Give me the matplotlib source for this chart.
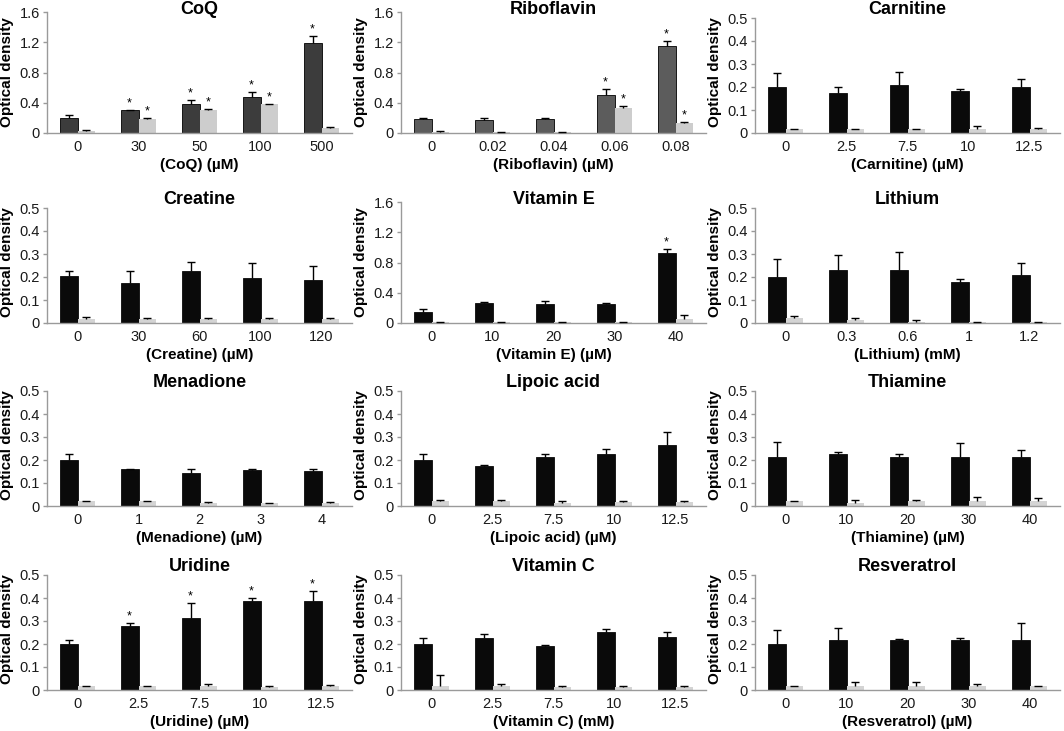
import numpy as np
import matplotlib
matplotlib.use("Agg")
import matplotlib.pyplot as plt

plt.rcParams['font.family'] = ['Liberation Sans', 'DejaVu Sans']

# ---- data ----
titles = ["CoQ", "Riboflavin", "Carnitine",
          "Creatine", "Vitamin E", "Lithium",
          "Menadione", "Lipoic acid", "Thiamine",
          "Uridine", "Vitamin C", "Resveratrol"]

xlabels = ["(CoQ) (µM)", "(Riboflavin) (µM)", "(Carnitine) (µM)",
           "(Creatine) (µM)", "(Vitamin E) (µM)", "(Lithium) (mM)",
           "(Menadione) (µM)", "(Lipoic acid) (µM)", "(Thiamine) (µM)",
           "(Uridine) (µM)", "(Vitamin C) (mM)", "(Resveratrol) (µM)"]

doses = [["0", "30", "50", "100", "500"],
         ["0", "0.02", "0.04", "0.06", "0.08"],
         ["0", "2.5", "7.5", "10", "12.5"],
         ["0", "30", "60", "100", "120"],
         ["0", "10", "20", "30", "40"],
         ["0", "0.3", "0.6", "1", "1.2"],
         ["0", "1", "2", "3", "4"],
         ["0", "2.5", "7.5", "10", "12.5"],
         ["0", "10", "20", "30", "40"],
         ["0", "2.5", "7.5", "10", "12.5"],
         ["0", "2.5", "7.5", "10", "12.5"],
         ["0", "10", "20", "30", "40"]]

ymax = [1.6, 1.6, 0.5, 0.5, 1.6, 0.5, 0.5, 0.5, 0.5, 0.5, 0.5, 0.5]

dark = [[0.20, 0.30, 0.39, 0.48, 1.19],
        [0.18, 0.167, 0.18, 0.50, 1.15],
        [0.20, 0.173, 0.207, 0.183, 0.20],
        [0.203, 0.175, 0.225, 0.195, 0.185],
        [0.145, 0.265, 0.25, 0.25, 0.92],
        [0.20, 0.23, 0.23, 0.177, 0.207],
        [0.20, 0.16, 0.145, 0.158, 0.152],
        [0.20, 0.175, 0.215, 0.225, 0.265],
        [0.215, 0.225, 0.215, 0.215, 0.215],
        [0.20, 0.28, 0.315, 0.385, 0.385],
        [0.20, 0.228, 0.19, 0.252, 0.232],
        [0.20, 0.218, 0.218, 0.218, 0.218]]

dark_err = [[0.04, 0.01, 0.05, 0.06, 0.09],
            [0.015, 0.03, 0.015, 0.08, 0.07],
            [0.062, 0.027, 0.06, 0.008, 0.033],
            [0.022, 0.05, 0.042, 0.065, 0.065],
            [0.035, 0.015, 0.035, 0.012, 0.06],
            [0.077, 0.067, 0.077, 0.015, 0.052],
            [0.025, 0.002, 0.018, 0.003, 0.01],
            [0.025, 0.005, 0.01, 0.025, 0.055],
            [0.065, 0.008, 0.013, 0.06, 0.03],
            [0.018, 0.01, 0.065, 0.015, 0.045],
            [0.028, 0.014, 0.005, 0.015, 0.021],
            [0.062, 0.052, 0.004, 0.01, 0.072]]

light = [[0.02, 0.19, 0.31, 0.38, 0.07],
         [0.013, 0.01, 0.01, 0.33, 0.13],
         [0.017, 0.017, 0.017, 0.017, 0.017],
         [0.019, 0.016, 0.016, 0.016, 0.018],
         [0.01, 0.01, 0.01, 0.01, 0.057],
         [0.02, 0.011, 0.006, 0.003, 0.003],
         [0.02, 0.02, 0.015, 0.012, 0.015],
         [0.02, 0.02, 0.015, 0.018, 0.018],
         [0.02, 0.015, 0.02, 0.02, 0.02],
         [0.018, 0.018, 0.018, 0.015, 0.018],
         [0.018, 0.018, 0.015, 0.015, 0.015],
         [0.018, 0.018, 0.018, 0.018, 0.018]]

light_err = [[0.015, 0.005, 0.005, 0.005, 0.01],
             [0.02, 0.005, 0.005, 0.03, 0.02],
             [0.002, 0.002, 0.002, 0.012, 0.006],
             [0.006, 0.004, 0.004, 0.004, 0.002],
             [0.003, 0.003, 0.003, 0.003, 0.045],
             [0.009, 0.01, 0.005, 0.002, 0.002],
             [0.003, 0.003, 0.003, 0.002, 0.003],
             [0.005, 0.005, 0.005, 0.002, 0.002],
             [0.002, 0.012, 0.005, 0.017, 0.013],
             [0.001, 0.001, 0.01, 0.003, 0.004],
             [0.049, 0.01, 0.003, 0.003, 0.003],
             [0.001, 0.015, 0.015, 0.01, 0.001]]

# significance marks (1 = asterisk)
dark_star = [[0, 1, 1, 1, 1], [0, 0, 0, 1, 1], [0] * 5,
             [0] * 5, [0, 0, 0, 0, 1], [0] * 5,
             [0] * 5, [0] * 5, [0] * 5,
             [0, 1, 1, 1, 1], [0] * 5, [0] * 5]
light_star = [[0, 1, 1, 1, 0], [0, 0, 0, 1, 1]] + [[0] * 5] * 10

dark_colors = ["#3c3c3c", "#5c5c5c"] + ["#0a0a0a"] * 10
light_colors = ["#cdcdcd", "#cdcdcd"] + ["#d4d4d4"] * 10

# ---- layout in pixels ----
W, H = 1064, 731
lefts = [47, 401, 755]
bottoms = [133, 323, 506, 690]
aw, ah = 305, 122

fig = plt.figure(figsize=(W / 100, H / 100), dpi=100)
spine_col = "#9a9a9a"
bw = 0.29

for k in range(12):
    r, c = divmod(k, 3)
    ax = fig.add_axes([lefts[c] / W, 1 - bottoms[r] / H, aw / W, ah / H])
    x = np.arange(5)
    top = ymax[k]
    # 0.5-scaled panels have a slightly shorter axis in the original
    ylim_top = top * 122 / 121 if top > 1 else top * 122 / 115

    ax.bar(x - bw / 2, dark[k], bw, color=dark_colors[k],
           edgecolor="black" if k < 2 else dark_colors[k], linewidth=0.6, zorder=2)
    ax.bar(x + bw / 2, light[k], bw, color=light_colors[k], linewidth=0, zorder=2)

    for xs, ys, es in [(x - bw / 2, dark[k], dark_err[k]),
                       (x + bw / 2, light[k], light_err[k])]:
        eb = ax.errorbar(xs, ys, yerr=[np.zeros(5), es], fmt="none",
                         ecolor="black", elinewidth=1.0, capsize=3, capthick=1.0,
                         zorder=3)
        eb[1][0].set_visible(False)

    for i in range(5):
        if dark_star[k][i]:
            ax.text(i - bw / 2, dark[k][i] + dark_err[k][i] + top * 0.005, "*",
                    ha="center", va="bottom", fontsize=9)
        if light_star[k][i]:
            ax.text(i + bw / 2, light[k][i] + light_err[k][i] + top * 0.005, "*",
                    ha="center", va="bottom", fontsize=9)

    ax.set_xlim(-0.5, 4.5)
    ax.set_ylim(0, ylim_top)
    if top > 1:
        ax.set_yticks([0, 0.4, 0.8, 1.2, 1.6])
        ax.set_yticklabels(["0", "0.4", "0.8", "1.2", "1.6"])
    else:
        ax.set_yticks([0, 0.1, 0.2, 0.3, 0.4, 0.5])
        ax.set_yticklabels(["0", "0.1", "0.2", "0.3", "0.4", "0.5"])
    ax.set_xticks(x)
    ax.set_xticklabels(doses[k])

    for s in ["top", "right"]:
        ax.spines[s].set_visible(False)
    for s in ["left", "bottom"]:
        ax.spines[s].set_color(spine_col)
        ax.spines[s].set_linewidth(1.0)
    ax.spines["left"].set_bounds(0, top)

    ax.tick_params(axis="y", length=3, width=1, color=spine_col, pad=2,
                   labelsize=10.5, labelcolor="#1a1a1a")
    ax.tick_params(axis="x", length=0, pad=5, labelsize=10.5, labelcolor="#1a1a1a")

    ax.set_ylabel("Optical density", fontsize=11, fontweight="bold", labelpad=4)
    ax.set_xlabel(xlabels[k], fontsize=11, fontweight="bold", labelpad=3)
    ax.text(0.5, 1.016, titles[k], transform=ax.transAxes, ha="center",
            va="center", fontsize=13, fontweight="bold")

fig.savefig("out.png", dpi=100)
